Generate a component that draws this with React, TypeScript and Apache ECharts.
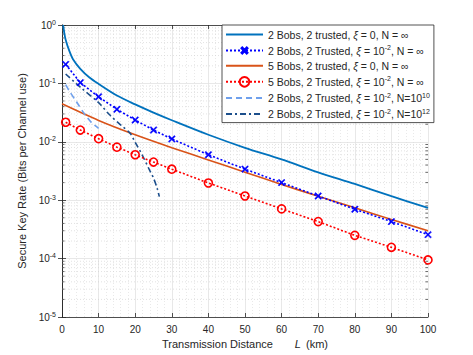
import React, { useEffect, useRef } from 'react';
import * as echarts from 'echarts';

// ---------- data ----------
const legendNames = [
  '2 Bobs, 2 trusted, xi = 0, N = inf',
  '2 Bobs, 2 Trusted, xi = 1e-2, N = inf',
  '5 Bobs, 2 trusted, xi = 0, N = inf',
  '5 Bobs, 2 Trusted, xi = 1e-2, N = inf',
  '2 Bobs, 2 Trusted, xi = 1e-2, N=1e10',
  '2 Bobs, 2 Trusted, xi = 1e-2, N=1e12',
];
const legendRich = [
  '{t|2 Bobs, 2 trusted, }{i|ξ}{t| = 0, N = ∞}',
  '{t|2 Bobs, 2 Trusted, }{i|ξ}{t| = 10}{s|-2}{t|, N = ∞}',
  '{t|5 Bobs, 2 trusted, }{i|ξ}{t| = 0, N = ∞}',
  '{t|5 Bobs, 2 Trusted, }{i|ξ}{t| = 10}{s|-2}{t|, N = ∞}',
  '{t|2 Bobs, 2 Trusted, }{i|ξ}{t| = 10}{s|-2}{t|, N=10}{s|10}',
  '{t|2 Bobs, 2 Trusted, }{i|ξ}{t| = 10}{s|-2}{t|, N=10}{s|12}',
];
const legendHasMarker = [false, true, false, true, false, false];

const dist2Ideal = [0.3, 0.6, 1, 2, 3, 5, 7.5, 10, 15, 20, 25, 30, 40, 50, 60, 70, 80, 90, 100];
const rate2Ideal = [1.0, 0.75, 0.56, 0.36, 0.26, 0.178, 0.126, 0.098, 0.062, 0.0437, 0.0316, 0.0234, 0.0132, 0.0079, 0.005, 0.003, 0.0019, 0.00117, 0.00074];

const dist2Noisy = [1, 5, 10, 15, 20, 25, 30, 40, 50, 60, 70, 80, 90, 100];
const rate2Noisy = [0.212, 0.103, 0.059, 0.036, 0.0236, 0.0159, 0.0112, 0.006, 0.0034, 0.002, 0.00118, 0.0007, 0.00043, 0.000257];

const dist5Ideal = [0, 10, 20, 30, 40, 50, 60, 70, 80, 90, 100];
const rate5Ideal = [0.0447, 0.0232, 0.0132, 0.00794, 0.0049, 0.00302, 0.00186, 0.00117, 0.00074, 0.000468, 0.0003];

const dist5Noisy = [1, 5, 10, 15, 20, 25, 30, 40, 50, 60, 70, 80, 90, 100];
const rate5Noisy = [0.0216, 0.0159, 0.0113, 0.0081, 0.006, 0.0045, 0.0034, 0.00197, 0.00118, 0.00071, 0.00043, 0.00025, 0.000156, 0.000095];

const distN10 = [1, 2, 4, 6, 8, 10];
const rateN10 = [0.095, 0.074, 0.048, 0.031, 0.0215, 0.017];

const distN12 = [1, 5, 10, 13, 16, 18.6, 20, 22, 24, 25, 26, 26.6];
const rateN12 = [0.145, 0.086, 0.047, 0.029, 0.0195, 0.014, 0.0098, 0.0058, 0.0032, 0.0024, 0.0016, 0.00115];

const xTicksMin = 0;
const xTicksMax = 100;
const xTickStep = 10;
const yMin = 1e-5;
const yMax = 1;

// ---------- styling helpers ----------
const TXT = '#262626';
const FONT = '"Liberation Sans", Arial, Helvetica, sans-serif';

const pairs = (xs: number[], ys: number[]) => xs.map((x, i) => [x, ys[i]]);

const minorValues: number[] = [];
for (let e = -5; e < 0; e++) {
  for (let k = 2; k <= 9; k++) minorValues.push(k * Math.pow(10, e));
}

// X-shaped marker, padded with empty sub-paths so that it renders smaller in its box
const xMarker =
  'path://M-3,-3 L-3,-3 Z M13,13 L13,13 Z M0,1.3 L1.3,0 L5,3.7 L8.7,0 L10,1.3 L6.3,5 L10,8.7 L8.7,10 L5,6.3 L1.3,10 L0,8.7 L3.7,5 Z';

const supRich = {
  t: { fontSize: 10.5, fontFamily: FONT, color: TXT, lineHeight: 13 },
  i: { fontSize: 10.5, fontFamily: FONT, color: TXT, fontStyle: 'italic', lineHeight: 13 },
  s: { fontSize: 7, fontFamily: FONT, color: TXT, lineHeight: 7, verticalAlign: 'top' },
};

export default function App() {
  const ref = useRef<HTMLDivElement>(null);
  useEffect(() => {
    const chart = echarts.init(ref.current!, null, { renderer: 'svg' });
    const option: any = {
      animation: false,
      backgroundColor: '#ffffff',
      grid: { left: 62, right: 45, top: 25, bottom: 38, containLabel: false },
      legend: {
        data: legendNames.map((n, i) =>
          legendHasMarker[i] ? { name: n } : { name: n, itemStyle: { opacity: 0 } }
        ),
        orient: 'vertical',
        left: 222,
        top: 25,
        itemWidth: 37,
        itemHeight: 12,
        itemGap: 4,
        padding: [4, 4, 3, 3],
        backgroundColor: '#ffffff',
        borderColor: TXT,
        borderWidth: 0.8,
        formatter: (name: string) => legendRich[legendNames.indexOf(name)],
        textStyle: { fontSize: 10.5, fontFamily: FONT, color: TXT, rich: supRich },
      },
      xAxis: [
        {
          type: 'value',
          min: xTicksMin,
          max: xTicksMax,
          interval: xTickStep,
          name: '{t|Transmission Distance}{i|L}{t|(km)}',
          nameLocation: 'middle',
          nameGap: 20,
          nameTextStyle: {
            rich: {
              t: { fontSize: 11, fontFamily: FONT, color: TXT },
              i: { fontSize: 11, fontFamily: FONT, color: TXT, fontStyle: 'italic', padding: [0, 5, 0, 22] },
            },
          },
          axisLine: { show: true, lineStyle: { color: TXT, width: 0.8 } },
          axisTick: { show: true, inside: true, length: 4, lineStyle: { color: TXT, width: 0.8 } },
          axisLabel: { fontSize: 10, fontFamily: FONT, color: TXT, margin: 7 },
          splitLine: { show: true, lineStyle: { color: '#e2e2e2', width: 0.8 } },
          minorTick: { show: false, splitNumber: 5 },
          minorSplitLine: { show: true, lineStyle: { color: '#dadada', width: 0.6, type: [1, 2] } },
        },
        {
          type: 'value',
          position: 'top',
          min: xTicksMin,
          max: xTicksMax,
          interval: xTickStep,
          axisLine: { show: true, lineStyle: { color: TXT, width: 0.8 } },
          axisTick: { show: true, inside: true, length: 4, lineStyle: { color: TXT, width: 0.8 } },
          axisLabel: { show: false },
          splitLine: { show: false },
        },
      ],
      yAxis: [
        {
          type: 'log',
          logBase: 10,
          min: yMin,
          max: yMax,
          splitNumber: 5,
          name: 'Secure Key Rate (Bits per Channel use)',
          nameLocation: 'middle',
          nameGap: 28,
          nameTextStyle: { fontSize: 11, fontFamily: FONT, color: TXT },
          axisLine: { show: true, lineStyle: { color: TXT, width: 0.8 } },
          axisTick: { show: true, inside: true, length: 4, lineStyle: { color: TXT, width: 0.8 } },
          axisLabel: {
            margin: 6,
            formatter: (v: number) => `{b|10}{s|${Math.round(Math.log10(v))}}`,
            rich: {
              b: { fontSize: 10, fontFamily: FONT, color: TXT, lineHeight: 13 },
              s: { fontSize: 7, fontFamily: FONT, color: TXT, lineHeight: 7, verticalAlign: 'top' },
            },
          },
          splitLine: { show: true, lineStyle: { color: '#e2e2e2', width: 0.8 } },
        },
        {
          type: 'log',
          logBase: 10,
          min: yMin,
          max: yMax,
          splitNumber: 5,
          position: 'right',
          axisLine: { show: true, lineStyle: { color: TXT, width: 0.8 } },
          axisTick: { show: true, inside: true, length: 4, lineStyle: { color: TXT, width: 0.8 } },
          axisLabel: { show: false },
          splitLine: { show: false },
        },
      ],
      series: [
        {
          name: legendNames[0],
          type: 'line',
          data: pairs(dist2Ideal, rate2Ideal),
          symbol: 'none',
          smooth: 0.3,
          lineStyle: { color: '#0072bd', width: 1.8 },
          itemStyle: { color: '#0072bd' },
          z: 5,
        },
        {
          name: legendNames[1],
          type: 'line',
          data: pairs(dist2Noisy, rate2Noisy),
          symbol: xMarker,
          symbolSize: 11,
          lineStyle: { color: '#0000ff', width: 1.6, type: [2, 2] },
          itemStyle: { color: '#0000ff', borderColor: '#0000ff', borderWidth: 0.5 },
          z: 6,
        },
        {
          name: legendNames[2],
          type: 'line',
          data: pairs(dist5Ideal, rate5Ideal),
          symbol: 'none',
          smooth: 0.3,
          lineStyle: { color: '#d95319', width: 1.6 },
          itemStyle: { color: '#d95319' },
          z: 5,
        },
        {
          name: legendNames[3],
          type: 'line',
          data: pairs(dist5Noisy, rate5Noisy),
          symbol: 'circle',
          symbolSize: 8,
          lineStyle: { color: '#ff0000', width: 1.6, type: [2, 2] },
          itemStyle: { color: 'rgba(255,255,255,0)', borderColor: '#ff0000', borderWidth: 1.6 },
          z: 6,
        },
        {
          name: legendNames[4],
          type: 'line',
          data: pairs(distN10, rateN10),
          symbol: 'none',
          smooth: 0.3,
          lineStyle: { color: '#6fa0ec', width: 1.6, type: [6, 4] },
          itemStyle: { color: '#6fa0ec' },
          z: 5,
        },
        {
          name: legendNames[5],
          type: 'line',
          data: pairs(distN12, rateN12),
          symbol: 'none',
          smooth: 0.3,
          lineStyle: { color: '#1c4f8c', width: 1.6, type: [6, 3, 2, 3] },
          itemStyle: { color: '#1c4f8c' },
          z: 5,
        },
        {
          type: 'custom',
          silent: true,
          z: 1,
          data: minorValues.map((v) => [0, v]),
          renderItem: (params: any, api: any) => {
            const v = api.value(1);
            const p1 = api.coord([xTicksMin, v]);
            const p2 = api.coord([xTicksMax, v]);
            return {
              type: 'group',
              children: [
                {
                  type: 'line',
                  shape: { x1: p1[0], y1: p1[1], x2: p2[0], y2: p2[1] },
                  style: { stroke: '#cfcfcf', lineWidth: 0.6, lineDash: [1, 2] },
                },
                {
                  type: 'line',
                  shape: { x1: p1[0], y1: p1[1], x2: p1[0] + 2.5, y2: p1[1] },
                  style: { stroke: TXT, lineWidth: 0.7 },
                },
                {
                  type: 'line',
                  shape: { x1: p2[0] - 2.5, y1: p2[1], x2: p2[0], y2: p2[1] },
                  style: { stroke: TXT, lineWidth: 0.7 },
                },
              ],
            };
          },
        },
      ],
    };
    chart.setOption(option);
    return () => chart.dispose();
  }, []);
  return (
    <div
      ref={ref}
      style={{ position: 'fixed', left: 0, top: 0, width: 473, height: 355, background: '#fff' }}
    />
  );
}
